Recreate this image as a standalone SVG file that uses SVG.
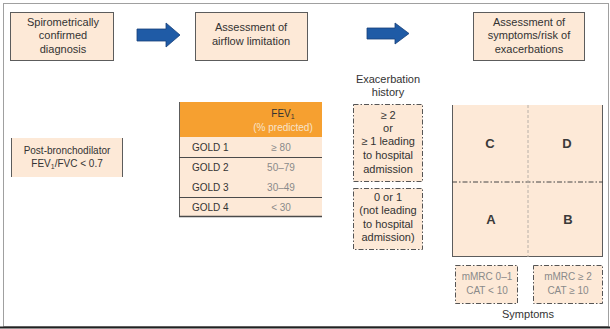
<svg xmlns="http://www.w3.org/2000/svg" width="610" height="329" viewBox="0 0 610 329">
<defs>
<style>
text{font-family:"Liberation Sans",Arial,sans-serif;font-size:10px;fill:#333;text-anchor:middle}
.box{fill:#fde9d7;stroke:#5c5c5c;stroke-width:1}
.dash{fill:#fde9d7;stroke:#555;stroke-width:1;stroke-dasharray:5 2 1.5 2}
.arrow{fill:#1f5ba6;stroke:#163f78;stroke-width:0.8}
.lt{fill:#8a8a8a}
.hd{fill:#f6e3cc}
.big{font-size:13px;font-weight:bold;fill:#3a3a3a}
.l{text-anchor:start}
.m{font-size:11px}
</style>
</defs>
<rect x="0" y="0" width="610" height="329" fill="#ffffff"/>
<g id="frame">
<rect x="3.5" y="3.5" width="605" height="323" fill="none" stroke="#a0a0a0" stroke-width="1"/>
<line x1="0" y1="327.5" x2="610" y2="327.5" stroke="#222" stroke-width="2"/>
</g>
<g id="connectors">
<polygon class="arrow" points="137,29 166,29 166,23 180,35 166,47 166,41 137,41"/>
<polygon class="arrow" points="367,28 395,28 395,23 409,33.5 395,44 395,39 367,39"/>
</g>
<g id="step1">
<rect class="box" x="10.5" y="12.5" width="103" height="48"/>
<text class="m" x="63" y="25.5">Spirometrically</text>
<text class="m" x="63" y="39">confirmed</text>
<text class="m" x="63" y="52.5">diagnosis</text>
</g>
<g id="step2">
<rect class="box" x="195.5" y="12.5" width="112" height="48"/>
<text class="m" x="251" y="31">Assessment of</text>
<text class="m" x="251" y="44.5">airflow limitation</text>
</g>
<g id="step3">
<rect class="box" x="473.5" y="12.5" width="111" height="48"/>
<text class="m" x="529" y="25.5">Assessment of</text>
<text class="m" x="529" y="39">symptoms/risk of</text>
<text class="m" x="529" y="52.5">exacerbations</text>
</g>
<g id="postbd">
<rect x="11" y="138" width="112" height="39" fill="#fde9d7"/>
<line x1="11.5" y1="138" x2="11.5" y2="177" stroke="#5c5c5c"/>
<line x1="122.5" y1="138" x2="122.5" y2="177" stroke="#5c5c5c"/>
<text x="67" y="154">Post-bronchodilator</text>
<text x="67" y="166.5">FEV<tspan font-size="7" dy="2">1</tspan><tspan dy="-2">/FVC &lt; 0.7</tspan></text>
</g>
<g id="fev-table">
<rect x="179" y="102" width="143" height="35" fill="#f6a030"/>
<rect x="179" y="137" width="143" height="80" fill="#fde9d7"/>
<line x1="179.5" y1="102" x2="179.5" y2="217" stroke="#5c5c5c"/>
<line x1="179" y1="216.5" x2="322" y2="216.5" stroke="#4a4a4a" stroke-width="1.5"/>
<line x1="179" y1="157.5" x2="322" y2="157.5" stroke="#4a4a4a"/>
<line x1="179" y1="197.5" x2="322" y2="197.5" stroke="#4a4a4a"/>
<text x="283" y="117">FEV<tspan font-size="7" dy="2">1</tspan></text>
<text class="hd" x="283" y="131">(% predicted)</text>
<text class="l" x="192" y="151">GOLD 1</text>
<text class="l" x="192" y="171">GOLD 2</text>
<text class="l" x="192" y="191">GOLD 3</text>
<text class="l" x="192" y="211">GOLD 4</text>
<text class="lt" x="281" y="151">≥ 80</text>
<text class="lt" x="281" y="171">50–79</text>
<text class="lt" x="281" y="191">30–49</text>
<text class="lt" x="281" y="211">&lt; 30</text>
</g>
<g id="exacerbation">
<text class="m" x="388" y="83">Exacerbation</text>
<text class="m" x="388" y="96">history</text>
<rect class="dash" x="353.5" y="104.5" width="69" height="77"/>
<text class="m" x="388" y="118.5">≥ 2</text>
<text class="m" x="388" y="131.5">or</text>
<text class="m" x="388" y="145">≥ 1 leading</text>
<text class="m" x="388" y="159">to hospital</text>
<text class="m" x="388" y="173">admission</text>
<rect class="dash" x="353.5" y="188.5" width="69" height="61"/>
<text class="m" x="388" y="200.5">0 or 1</text>
<text class="m" x="388" y="214">(not leading</text>
<text class="m" x="388" y="227.5">to hospital</text>
<text class="m" x="388" y="241">admission)</text>
</g>
<g id="grid">
<rect x="452" y="105" width="151" height="152" fill="#fde9d7"/>
<line x1="452.5" y1="105" x2="452.5" y2="257" stroke="#5c5c5c"/>
<line x1="602.5" y1="105" x2="602.5" y2="257" stroke="#5c5c5c"/>
<line x1="452" y1="256.5" x2="603" y2="256.5" stroke="#5c5c5c"/>
<line x1="452" y1="182" x2="603" y2="182" stroke="#444" stroke-dasharray="5 2 1.5 2"/>
<line x1="528" y1="105" x2="528" y2="257" stroke="#b8b0a8" stroke-dasharray="3 2"/>
<text class="big" x="490" y="148">C</text>
<text class="big" x="567" y="148">D</text>
<text class="big" x="491" y="224">A</text>
<text class="big" x="568" y="224">B</text>
</g>
<g id="symptoms">
<rect class="dash" x="455.5" y="265.5" width="62" height="38"/>
<text class="lt" x="487" y="280">mMRC 0–1</text>
<text class="lt" x="487" y="294">CAT &lt; 10</text>
<rect class="dash" x="533.5" y="265.5" width="69" height="38"/>
<text class="lt" x="568" y="280">mMRC ≥ 2</text>
<text class="lt" x="568" y="294">CAT ≥ 10</text>
<text class="m" x="528" y="318">Symptoms</text>
</g>
</svg>
